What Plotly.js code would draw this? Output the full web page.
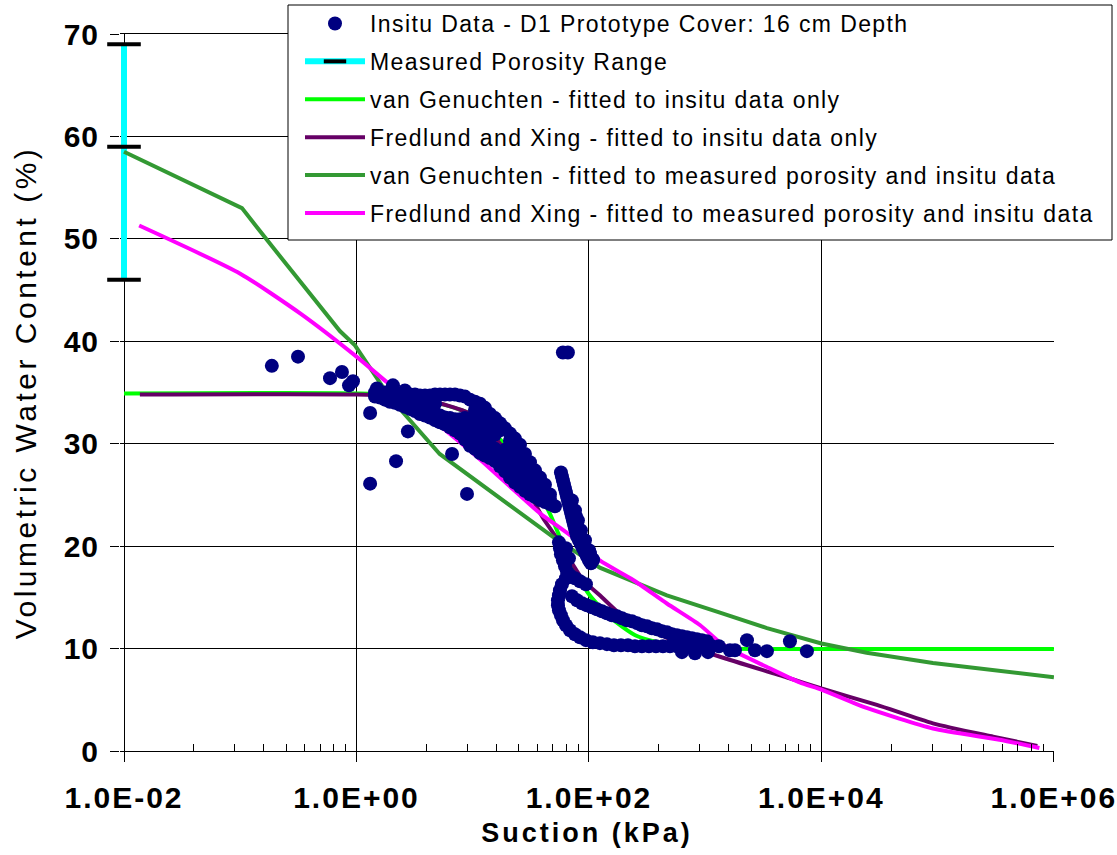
<!DOCTYPE html>
<html>
<head>
<meta charset="utf-8">
<script src="https://cdn.plot.ly/plotly-3.0.1.min.js"></script>
<style>
html,body{margin:0;padding:0;background:#fff;}
#chart{width:1117px;height:855px;}
.legendtext{letter-spacing:1.4px;}
.xtick text{letter-spacing:2px;}
.ytick text{letter-spacing:1px;}
.xtitle{letter-spacing:3px;}
.ytitle{letter-spacing:3.5px;}
</style>
</head>
<body>
<div id="chart"></div>
<script>
// ---------- data ----------
// In situ measurements: suction (kPa) and volumetric water content (%)
const insituSuction = [
  // scattered points
  0.187,0.314,0.592,0.750,0.862,0.933,1.31,1.31,2.19,2.77,6.64,8.93,59.7,65.9,
  1.50,1.76,2.06,2.61,
  // main wetting/drying band
  1.443,1.443, 1.593,1.593, 1.759,1.759, 1.942,1.942, 2.144,2.144,2.144,
  2.367,2.367,2.367, 2.614,2.614,2.614, 2.886,2.886,2.886, 3.186,3.186,3.186,
  3.518,3.518,3.518, 3.884,3.884,3.884,3.884, 4.289,4.289,4.289,4.289,
  4.735,4.735,4.735,4.735, 5.228,5.228,5.228, 5.772,5.772,5.772,
  6.373,6.373,6.373, 7.036,7.036,7.036,7.036, 7.769,7.769,7.769,7.769,
  8.577,8.577,8.577,8.577,8.577, 9.47,9.47,9.47,9.47,9.47,9.47,
  10.46,10.46,10.46,10.46,10.46,10.46,10.46, 11.55,11.55,11.55,11.55,11.55,11.55,11.55,
  12.75,12.75,12.75,12.75,12.75,12.75,12.75, 14.07,14.07,14.07,14.07,14.07,14.07,14.07,
  15.54,15.54,15.54,15.54,15.54,15.54, 17.16,17.16,17.16,17.16,17.16,
  18.94,18.94,18.94,18.94,18.94, 20.92,20.92,20.92,20.92,20.92,20.92,20.92,
  23.09,23.09,23.09,23.09,23.09,23.09,23.09, 25.5,25.5,25.5,25.5,25.5,25.5,25.5,
  28.15,28.15,28.15,28.15,28.15,28.15, 31.08,31.08,31.08,31.08,31.08,31.08,
  34.32,34.32,34.32,34.32,34.32, 37.89,37.89,37.89,37.89, 41.83,41.83,41.83,41.83,
  46.19,46.19,46.19, 51.0,
  // steep band near 100 kPa
  57.42,58.57,59.74,60.93,62.15,63.41,64.68,65.97,67.3,68.65,70.02,71.43,72.86,74.32,
  75.81,77.33,78.88,82.04,85.35,88.79,92.38,96.11,100.0,104.0,108.2,102.0,
  77.33,80.4,90.6,104.0,
  71.4,75.8,80.4,85.35,92.4,100.0,108.2,
  // lower blob
  55.2,56.3,57.4,59.7,62.2,64.7,68.7,75.8,83.7,94.2,63.4,58.6,56.3,63.4,67.3,
  // outer (lower) branch of the loop
  55.2,54.1,54.1,55.2,57.4,59.7,63.4,68.7,75.8,83.7,94.2,108,124.3,142.8,164.1,188.5,
  216.6,248.8,285.8,328.3,377.1,433.2,497.6,571.5,656.5,754.1,866.2,995,1143,1313,
  631,817,1057,
  // inner (upper) branch of the loop
  71.4,78.9,87.1,96.1,106.1,117.2,129.4,142.8,157.7,174.1,192.3,212.3,234.4,258.9,
  285.8,315.5,348.4,384.6,424.6,468.9,517.6,571.5,631.0,696.6,769.1,849.2,937.6,1035,
  // tail
  1633,1803,2287,2678,3396,5360,7499
];
const insituTheta = [
  37.6,38.5,36.4,37.0,35.7,36.1,33.0,26.1,28.3,31.2,29.0,25.1,38.9,38.9,
  35.4,34.9,35.7,35.2,
  35.0,34.6, 34.9,34.5, 35.0,34.3, 35.0,34.1, 35.0,34.5,34.0,
  34.9,34.3,33.8, 34.9,34.2,33.6, 34.8,34.1,33.4, 34.8,34.0,33.2,
  34.7,33.8,32.9, 34.7,34.0,33.3,32.75, 34.7,33.9,33.2,32.55,
  34.8,33.9,33.0,32.3, 34.8,32.75,32.1, 34.8,32.55,31.9,
  34.8,32.5,31.6, 34.8,32.4,31.8,31.3, 34.7,32.4,31.7,31.0,
  34.6,32.5,31.8,31.1,30.4, 34.3,32.4,31.7,31.0,30.4,29.8,
  34.1,33.3,32.55,31.8,31.0,30.2,29.5, 33.9,33.1,32.4,31.6,30.8,30.0,29.1,
  33.5,32.75,32.0,31.2,30.4,29.6,28.85, 32.9,32.2,31.4,30.7,29.9,29.2,28.6,
  32.5,31.7,30.9,29.5,28.85,28.3, 32.0,31.3,29.1,28.5,27.8,
  31.5,29.4,28.75,28.0,27.3, 31.0,30.3,29.6,28.85,28.2,27.4,26.7,
  30.5,29.7,29.0,28.4,27.6,26.9,26.2, 29.9,29.2,28.6,27.9,27.2,26.5,25.8,
  29.0,28.4,27.7,27.0,26.2,25.4, 28.2,27.5,26.8,26.1,25.5,25.05,
  27.4,26.7,26.0,25.3,24.8, 26.7,25.9,25.15,24.5, 26.0,25.4,24.85,24.3,
  25.05,24.6,24.1, 23.9,
  27.19,26.8,26.41,26.02,25.63,25.24,24.85,24.46,24.07,23.68,23.29,22.9,22.51,22.12,
  21.73,21.35,20.96,20.57,20.18,19.79,19.4,19.01,18.62,18.32,18.71,19.3,
  22.9,21.6,19.8,18.9,
  24.46,23.49,22.51,21.54,20.57,19.6,18.62,
  20.37,19.79,19.2,18.62,18.03,17.54,17.15,16.86,16.57,16.28,16.86,16.28,15.69,19.79,18.81,
  15.2,14.72,14.23,13.74,13.26,12.77,12.28,11.79,11.4,11.11,10.82,10.62,10.53,10.43,10.33,10.33,
  10.33,10.23,10.23,10.23,10.23,10.23,10.23,10.23,10.23,10.23,10.23,10.23,10.23,10.23,
  9.65,9.55,9.65,
  15.11,14.72,14.42,14.23,14.04,13.84,13.65,13.45,13.26,13.16,12.96,12.77,12.67,12.48,
  12.28,12.18,11.99,11.89,11.7,11.6,11.4,11.31,11.21,11.11,11.01,10.92,10.82,10.72,
  9.84,9.84,10.82,9.84,9.75,10.72,9.75
];

// Measured porosity range (drawn at the first plotted suction)
const porositySuction = [0.01, 0.01, 0.01];
const porosityTheta   = [46, 59, 69];

// van Genuchten - fitted to insitu data only
const vgInsituSuction = [0.01,1,3,10,20,35,46,56,70,100,150,250,400,700,1000,3000,1000000];
const vgInsituTheta   = [34.9,34.9,34.6,32.8,29.6,25.6,23.2,20.9,18.3,15.3,13.1,11.3,10.6,10.2,10.05,9.95,9.95];

// Fredlund and Xing - fitted to insitu data only
const fxInsituSuction = [0.0137,1,3,10,20,40,52,89,124,212,275,500,1340,5000,10000,30000,91000,300000,720000];
const fxInsituTheta   = [34.8,34.8,34.6,32.8,29.0,22.8,20.9,16.7,15.2,12.8,12.3,10.9,9.2,7.2,6.1,4.5,2.7,1.4,0.5];

// van Genuchten - fitted to measured porosity and insitu data
const vgMeasSuction = [0.01,0.1035,0.19,0.327,0.72,0.97,1.94,5.2,19.7,49,124,468,1340,3400,10000,24500,91000,340000,1000000];
const vgMeasTheta   = [58.5,53.0,49.2,45.9,41.0,39.6,34.5,29.0,24.2,20.9,17.9,15.2,13.5,12.0,10.5,9.6,8.6,7.8,7.2];

// Fredlund and Xing - fitted to measured porosity and insitu data
const fxMeasSuction = [0.0135,0.1,0.33,1,1.83,10,24,38,72,124,240,468,900,1340,1630,3400,6500,10000,24500,91000,340000,750000];
const fxMeasTheta   = [51.3,46.6,42.7,38.5,36.0,29.1,25.2,23.2,20.9,18.6,16.7,14.4,12.3,10.6,9.95,8.2,6.7,6.0,4.2,2.2,1.1,0.3];

// axis ticks
const xTickVals = [0.01, 1, 100, 10000, 1000000];
const xTickText = ['1.0E-02','1.0E+00','1.0E+02','1.0E+04','1.0E+06'];
const xMinorVals = [0.04,0.09,0.16,0.25,0.36,0.49,0.64,0.81,
                    4,9,16,25,36,49,64,81,
                    400,900,1600,2500,3600,4900,6400,8100,
                    40000,90000,160000,250000,360000,490000,640000,810000];
const yTickVals = [0,10,20,30,40,50,60,70];

// ---------- chart ----------
const FONT = 'Liberation Sans, Arial, Helvetica, sans-serif';
// plot frame in pixels: left edge sits 4 px left of the 1.0E-02 line so the
// porosity bar centred on that line is not cut by the plot clip
const PL = 120, PR = 1054, PT = 34, PB = 751;
const DECADE = 116.25;
const xRange = [-2 - (124 - PL) / DECADE, 6 + 0.1 / DECADE];
const px2paperX = p => (p - PL) / (PR - PL);
const px2paperY = p => (PB - p) / (PB - PT);

const porUp = porosityTheta[2] - porosityTheta[1];
const porDown = porosityTheta[1] - porosityTheta[0];

const traces = [
  {
    name:'Measured Porosity Range', x:porositySuction, y:porosityTheta,
    mode:'lines+markers', cliponaxis:false,
    line:{color:'#00FFFF', width:6},
    marker:{symbol:'line-ew', size:24, color:'#000', line:{color:'#000', width:4}},
    error_y:{type:'data', symmetric:false, array:[0, porUp, 0], arrayminus:[0, porDown, 0],
             color:'#00FFFF', thickness:6, width:0, visible:true},
    legendgroup:'b', legendrank:2
  },
  {
    name:'van Genuchten - fitted to insitu data only', x:vgInsituSuction, y:vgInsituTheta,
    mode:'lines', line:{color:'#00FF00', width:4, shape:'spline', smoothing:0.6}, legendgroup:'c', legendrank:3
  },
  {
    name:'Fredlund and Xing - fitted to insitu data only', x:fxInsituSuction, y:fxInsituTheta,
    mode:'lines', line:{color:'#660066', width:4, shape:'spline', smoothing:0.6}, legendgroup:'d', legendrank:4
  },
  {
    name:'van Genuchten - fitted to measured porosity and insitu data', x:vgMeasSuction, y:vgMeasTheta,
    mode:'lines', line:{color:'#339933', width:4}, legendgroup:'e', legendrank:5
  },
  {
    name:'Fredlund and Xing - fitted to measured porosity and insitu data', x:fxMeasSuction, y:fxMeasTheta,
    mode:'lines', line:{color:'#FF00FF', width:4, shape:'spline', smoothing:0.6}, legendgroup:'f', legendrank:6
  },
  {
    name:'Insitu Data - D1 Prototype Cover: 16 cm Depth', x:insituSuction, y:insituTheta,
    mode:'markers', marker:{color:'#000080', size:14, symbol:'circle'},
    legendgroup:'a', legendrank:1
  }
];

const layout = {
  width:1117, height:855,
  margin:{l:PL, r:1117-PR, t:PT, b:855-PB, autoexpand:false},
  paper_bgcolor:'#fff', plot_bgcolor:'#fff',
  showlegend:true,
  font:{family:FONT, color:'#000'},
  xaxis:{
    type:'log', range:xRange, autorange:false,
    tickmode:'array', tickvals:xTickVals, ticktext:xTickText,
    showgrid:true, gridcolor:'#000', gridwidth:1,
    showline:true, linecolor:'#000', linewidth:1, mirror:true,
    ticks:'outside', ticklen:10, tickwidth:1, tickcolor:'#000',
    tickfont:{family:FONT, size:30, color:'#000', weight:700},
    ticklabelstandoff:10, ticklabeloverflow:'allow',
    zeroline:false, automargin:false,
    minor:{tickmode:'array', tickvals:xMinorVals, ticks:'inside', ticklen:7, tickwidth:1, tickcolor:'#000', showgrid:false},
    title:{text:'Suction (kPa)', font:{family:FONT, size:27, color:'#000', weight:700}, standoff:10}
  },
  yaxis:{
    range:[0,70], autorange:false,
    tickmode:'array', tickvals:yTickVals,
    showgrid:true, gridcolor:'#000', gridwidth:1,
    showline:false,
    ticks:'outside', ticklen:9, tickwidth:1, tickcolor:'#000',
    tickfont:{family:FONT, size:30, color:'#000', weight:700},
    ticklabelstandoff:5, ticklabeloverflow:'allow',
    zeroline:false, automargin:false,
    title:{text:'Volumetric Water Content (%)', font:{family:FONT, size:30, color:'#000'}, standoff:18}
  },
  legend:{
    x:px2paperX(300), xanchor:'left', y:px2paperY(2), yanchor:'top',
    bgcolor:'rgba(0,0,0,0)', borderwidth:0,
    font:{family:FONT, size:23, color:'#000'},
    itemwidth:60, traceorder:'grouped', tracegroupgap:5, valign:'middle'
  },
  shapes:[{
    type:'rect', xref:'paper', yref:'paper', layer:'above',
    x0:px2paperX(288), x1:px2paperX(1112), y0:px2paperY(240), y1:px2paperY(5),
    line:{color:'#000', width:1}, fillcolor:'#fff'
  }]
};

Plotly.newPlot('chart', traces, layout, {displayModeBar:false, staticPlot:true});
</script>
</body>
</html>
